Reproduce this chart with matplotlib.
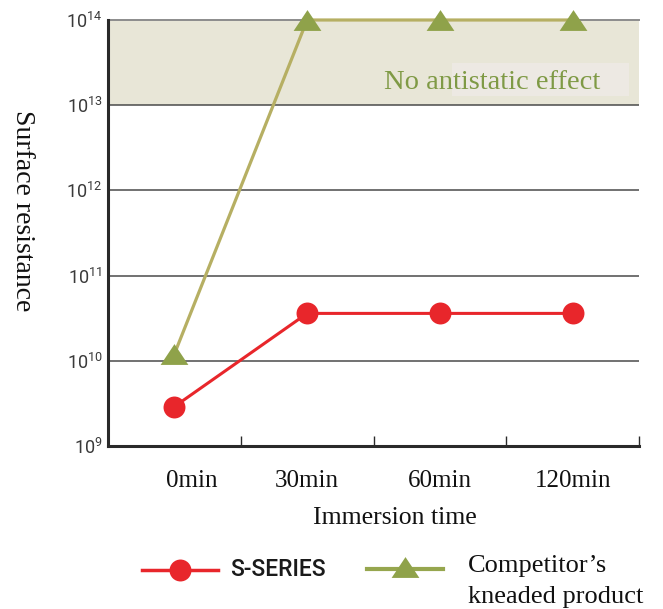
import matplotlib
matplotlib.use("Agg")
import matplotlib.pyplot as plt
import matplotlib.transforms as mtransforms
from matplotlib.lines import Line2D
from matplotlib.patches import Rectangle
from matplotlib.ticker import FixedLocator, FuncFormatter
import numpy as np

# ---- data ----
categories = ["0min", "30min", "60min", "120min"]
s_series = [2.9e9, 3.6e10, 3.6e10, 3.6e10]
competitor = [1.2e10, 1e14, 1e14, 1e14]
y_ticks = [1e9, 1e10, 1e11, 1e12, 1e13, 1e14]
series_names = ["S-SERIES", "Competitor\u2019s", "kneaded product"]
zone_label = "No antistatic effect"
x_label = "Immersion time"
y_label = "Surface resistance"

RED = "#e8262b"
OLIVE_LINE = "#b6af63"
OLIVE_MARK = "#8fa24a"
LEG_OLIVE = "#96a64e"
SERIF = "Liberation Serif"

tri = [(-1, -0.75), (1, -0.75), (0, 0.75)]

W, H = 663, 609
fig = plt.figure(figsize=(W / 100, H / 100), dpi=100)
ax = fig.add_axes([108 / W, 1 - 446 / H, (639 - 108) / W, (446 - 20) / H])

x = np.arange(len(categories))
ax.set_yscale("log")
ax.set_ylim(y_ticks[0], y_ticks[-1])
ax.set_xlim(-0.5, len(categories) - 0.5)

# shaded zone
ax.axhspan(1e13, 1e14, color="#e8e6d7", zorder=0, lw=0)
ax.add_patch(Rectangle((0.648, 0.8216), 0.333, 0.0774, transform=ax.transAxes,
                       facecolor="#ede9e3", edgecolor="none", zorder=0.5))
ax.text(0.724, 0.838, zone_label, transform=ax.transAxes, ha="center", va="baseline",
        fontsize=20.5, family=SERIF, color="#7f9a45", zorder=1)

# grid lines
for yt in y_ticks[1:-1]:
    ax.axhline(yt, color="#4a4a4a", lw=1.1, zorder=1)
ax.axhline(y_ticks[-1], color="#8c8c8c", lw=1.4, zorder=1, clip_on=False)

# series
ax.plot(x, competitor, color=OLIVE_LINE, lw=2.3, zorder=3, clip_on=False)
ax.plot(x, competitor, ls="none", marker=tri, ms=20, color=OLIVE_MARK,
        mec="none", zorder=4, clip_on=False)
ax.plot(x, s_series, color=RED, lw=2.2, zorder=5, clip_on=False)
ax.plot(x, s_series, ls="none", marker="o", ms=15.8, color=RED,
        mec="none", zorder=6, clip_on=False)

# spines
for s in ["top", "right"]:
    ax.spines[s].set_visible(False)
for s in ["left", "bottom"]:
    ax.spines[s].set_linewidth(2.2)
    ax.spines[s].set_color("#2a2a2a")

# y ticks
ax.yaxis.set_major_locator(FixedLocator(y_ticks))
ax.yaxis.set_minor_locator(FixedLocator([]))
ax.yaxis.set_major_formatter(FuncFormatter(lambda v, p: r"$\mathregular{10^{%d}}$" % round(np.log10(v))))
ax.tick_params(axis="y", length=0, pad=4, labelsize=13, labelcolor="#3a3a3a")
for lab in ax.get_yticklabels():
    lab.set_family("Roboto")

# x ticks
ax.set_xticks(x)
ax.set_xticklabels(categories, family=SERIF, fontsize=18)
ax.xaxis.set_minor_locator(FixedLocator(x + 0.5))
ax.tick_params(axis="x", which="major", length=0, pad=17, labelcolor="#111111")
ax.tick_params(axis="x", which="minor", direction="in", length=7.2, width=1.0, color="#2a2a2a")
lab0 = ax.get_xticklabels()[0]
lab0.set_transform(lab0.get_transform() + mtransforms.ScaledTranslation(0.17, 0, fig.dpi_scale_trans))

fig.text(395 / W, 1 - 518 / H, x_label, ha="center", va="center", family=SERIF,
         fontsize=18.5, color="#111111")
fig.text(22 / W, 1 - 211 / H, y_label, ha="center", va="center", rotation=270,
         family=SERIF, fontsize=20, color="#111111")

# legend (manual)
fig.add_artist(Line2D([142 / W, 218 / W], [1 - 570 / H] * 2, color=RED, lw=2.5,
                      transform=fig.transFigure))
fig.add_artist(Line2D([180 / W], [1 - 570 / H], marker="o", ms=15.8, color=RED, mec="none",
                      transform=fig.transFigure))
fig.text(230 / W, 1 - 570 / H, series_names[0], ha="left", va="center",
         family="Roboto", fontsize=16.5, fontweight="medium", color="#1a1a1a")
fig.add_artist(Line2D([367 / W, 443 / W], [1 - 569 / H] * 2, color=LEG_OLIVE, lw=3,
                      transform=fig.transFigure))
fig.add_artist(Line2D([405 / W], [1 - 567 / H], marker=tri, ms=20, color=OLIVE_MARK, mec="none",
                      transform=fig.transFigure))
fig.text(468 / W, 1 - 572 / H, series_names[1], ha="left", va="baseline",
         family=SERIF, fontsize=19, color="#111111")
fig.text(468 / W, 1 - 603 / H, series_names[2], ha="left", va="baseline",
         family=SERIF, fontsize=19, color="#111111")

fig.savefig("out.png", dpi=100)
